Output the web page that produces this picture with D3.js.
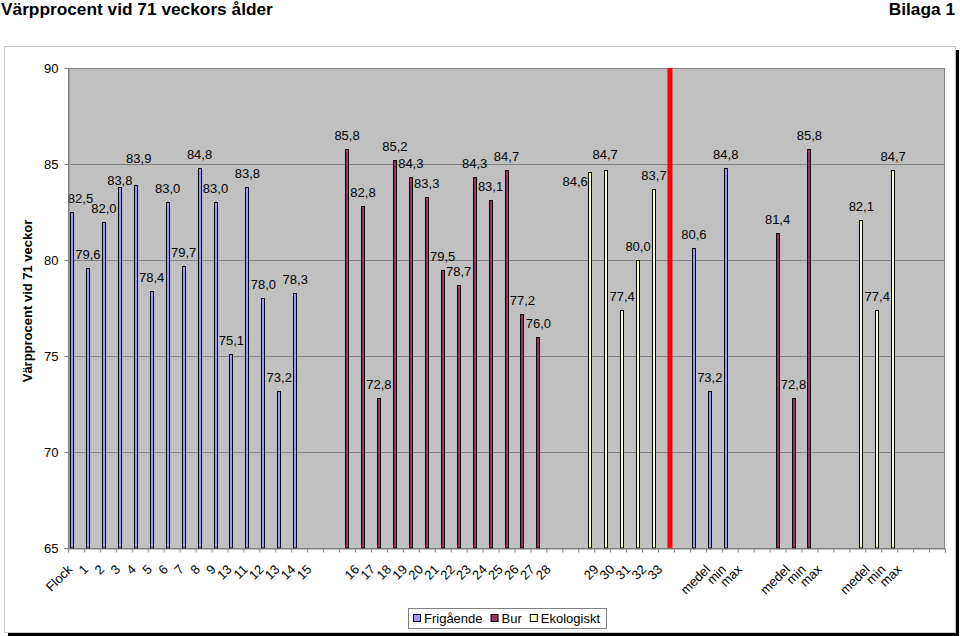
<!DOCTYPE html>
<html>
<head>
<meta charset="utf-8">
<script src="https://cdn.jsdelivr.net/npm/d3@7"></script>
<style>
  html, body { margin: 0; padding: 0; background: #fff; }
  svg { display: block; font-family: "Liberation Sans", Arial, sans-serif; }
</style>
</head>
<body>
<svg id="chart" width="960" height="636"></svg>
<script>
// ---------- DATA ----------
const tickLabels = [
  "Flock","1","2","3","4","5","6","7","8","9","13","11","12","13","14","15",
  "","",
  "16","17","18","19","20","21","22","23","24","25","26","27","28",
  "","",
  "29","30","31","32","33",
  "","",
  "medel","min","max",
  "","",
  "medel","min","max",
  "","",
  "medel","min","max",
  "",""
];
const N = null;
const frigaende = [
  82.5,79.6,82.0,83.8,83.9,78.4,83.0,79.7,84.8,83.0,75.1,83.8,78.0,73.2,78.3,
  N,N,
  N,N,N,N,N,N,N,N,N,N,N,N,N,
  N,N,
  N,N,N,N,N,
  N,N,
  80.6,73.2,84.8,
  N,N,
  N,N,N,
  N,N,
  N,N,N,
  N,N,N
];
const bur = [
  N,N,N,N,N,N,N,N,N,N,N,N,N,N,N,
  N,N,
  85.8,82.8,72.8,85.2,84.3,83.3,79.5,78.7,84.3,83.1,84.7,77.2,76.0,
  N,N,
  N,N,N,N,N,
  N,N,
  N,N,N,
  N,N,
  81.4,72.8,85.8,
  N,N,
  N,N,N,
  N,N,N
];
const ekologiskt = [
  N,N,N,N,N,N,N,N,N,N,N,N,N,N,N,
  N,N,
  N,N,N,N,N,N,N,N,N,N,N,N,N,
  N,N,
  84.6,84.7,77.4,80.0,83.7,
  N,N,
  N,N,N,
  N,N,
  N,N,N,
  N,N,
  82.1,77.4,84.7,
  N,N,N
];
const seriesNames = ["Frigående","Bur","Ekologiskt"];
const dividerCategory = 37;     // red separator line
const yTicks = [65,70,75,80,85,90];

// ---------- LAYOUT / STYLE ----------
const colors = { "Frigående": "#9999ff", "Bur": "#993366", "Ekologiskt": "#ffffcc" };
// manual data-label nudges (as placed in the original), keyed series|category
const labelNudge = {
  "Frigående|0": [8.5, 0],
  "Frigående|3": [0, 7],
  "Frigående|4": [3, -13],
  "Ekologiskt|32": [-15, 23],
  "Ekologiskt|33": [-1, -2]
};
const plot = { left: 68, right: 945, top: 68, bottom: 548 };
const font = "'Liberation Sans', Arial, sans-serif";

const svg = d3.select("#chart");

// chart area with shadow
svg.append("rect").attr("x", 8).attr("y", 50).attr("width", 951).attr("height", 586).attr("fill", "#000");
svg.append("rect").attr("x", 4.5).attr("y", 46.5).attr("width", 951).attr("height", 586)
  .attr("fill", "#fff").attr("stroke", "#c8c8c8");

// titles
svg.append("text").attr("x", 1).attr("y", 15).attr("font-size", 17.3).attr("font-weight", "bold")
  .text("Värpprocent vid 71 veckors ålder");
svg.append("text").attr("x", 955).attr("y", 15).attr("font-size", 17.3).attr("font-weight", "bold")
  .attr("text-anchor", "end").text("Bilaga 1");

// scales
const x0 = d3.scaleBand().domain(d3.range(tickLabels.length))
  .range([plot.left, plot.right]).paddingInner(0).paddingOuter(0);
const x1 = d3.scaleBand().domain(seriesNames).range([0, x0.bandwidth()])
  .paddingInner(0).paddingOuter(0.5);
const y = d3.scaleLinear().domain([65, 90]).range([plot.bottom, plot.top]);

// plot area
svg.append("rect").attr("x", plot.left).attr("y", plot.top)
  .attr("width", plot.right - plot.left).attr("height", plot.bottom - plot.top)
  .attr("fill", "#c0c0c0");

// gridlines
svg.append("g").selectAll("line").data(yTicks.filter(t => t > 65 && t < 90)).join("line")
  .attr("x1", plot.left).attr("x2", plot.right)
  .attr("y1", d => Math.round(y(d)) + 0.5).attr("y2", d => Math.round(y(d)) + 0.5)
  .attr("stroke", "#808080").attr("stroke-width", 1);

// plot border
svg.append("rect").attr("x", plot.left + 0.5).attr("y", plot.top + 0.5)
  .attr("width", plot.right - plot.left - 1).attr("height", plot.bottom - plot.top)
  .attr("fill", "none").attr("stroke", "#808080");

// bars
const seriesData = [
  { name: "Frigående", values: frigaende },
  { name: "Bur", values: bur },
  { name: "Ekologiskt", values: ekologiskt }
];
const fmt = v => d3.format(".1f")(v).replace(".", ",");
const barsG = svg.append("g");
const labelsG = svg.append("g");
seriesData.forEach(s => {
  const pts = s.values.map((v, i) => ({ v, i })).filter(d => d.v !== null);
  barsG.selectAll(null).data(pts).join("rect")
    .attr("x", d => Math.round(x0(d.i) + x1(s.name)) + 0.5)
    .attr("y", d => Math.round(y(d.v)) + 0.5)
    .attr("width", Math.round(x1.bandwidth()) - 1)
    .attr("height", d => y(65) - Math.round(y(d.v)) - 0.5)
    .attr("fill", colors[s.name]).attr("stroke", "#000").attr("stroke-width", 1);
  labelsG.selectAll(null).data(pts).join("text")
    .attr("x", d => {
      const n = labelNudge[s.name + "|" + d.i] || [0, 0];
      return x0(d.i) + x1(s.name) + x1.bandwidth() / 2 + n[0];
    })
    .attr("y", d => {
      const n = labelNudge[s.name + "|" + d.i] || [0, 0];
      return y(d.v) - 9 + n[1];
    })
    .attr("text-anchor", "middle").attr("font-size", 13).attr("fill", "#000")
    .text(d => fmt(d.v));
});

// red divider
svg.append("rect")
  .attr("x", x0(dividerCategory) + x1("Ekologiskt") + x1.bandwidth() / 2 - 2.5)
  .attr("y", y(90)).attr("width", 5).attr("height", y(65) - y(90))
  .attr("fill", "#ff0000");

// y axis
const yAxis = svg.append("g").attr("transform", `translate(${plot.left + 0.5},0)`)
  .call(d3.axisLeft(y).tickValues(yTicks).tickSize(4).tickPadding(6).tickFormat(d3.format("d")));
yAxis.select(".domain").attr("stroke", "#808080");
yAxis.selectAll(".tick line").attr("stroke", "#808080");
yAxis.selectAll("text").attr("font-size", 13).attr("font-family", font).attr("fill", "#000");

// x axis: boundary tick marks
const xb = d3.scaleLinear().domain([0, tickLabels.length]).range([plot.left, plot.right]);
const xTicks = svg.append("g").attr("transform", `translate(0,${plot.bottom + 0.5})`)
  .call(d3.axisBottom(xb).tickValues(d3.range(tickLabels.length + 1)).tickSize(4).tickFormat(""));
xTicks.select(".domain").attr("stroke", "#808080");
xTicks.selectAll(".tick line").attr("stroke", "#808080");

// x axis: category labels (rotated)
const xAxis = svg.append("g").attr("transform", `translate(0,${plot.bottom})`)
  .call(d3.axisBottom(x0).tickSize(0).tickFormat(i => tickLabels[i]));
xAxis.select(".domain").remove();
xAxis.selectAll("text")
  .attr("x", 0).attr("y", 0).attr("dy", "0.35em")
  .attr("transform", "translate(-6,19) rotate(-45)")
  .attr("text-anchor", "end")
  .attr("font-size", 13).attr("font-family", font).attr("fill", "#000");

// y axis title
svg.append("text")
  .attr("transform", "translate(32,301) rotate(-90)")
  .attr("text-anchor", "middle").attr("font-size", 13).attr("font-weight", "bold")
  .text("Värpprocent vid 71 veckor");

// legend
const legend = svg.append("g");
legend.append("rect").attr("x", 408.5).attr("y", 608.5).attr("width", 198).attr("height", 20)
  .attr("fill", "#fff").attr("stroke", "#808080");
let lx = 413;
seriesNames.forEach(name => {
  legend.append("rect").attr("x", lx + 0.5).attr("y", 614.5).attr("width", 7).attr("height", 7)
    .attr("fill", colors[name]).attr("stroke", "#000");
  const t = legend.append("text").attr("x", lx + 11).attr("y", 623).attr("font-size", 13).text(name);
  lx = lx + 11 + t.node().getComputedTextLength() + 8;
});
</script>
</body>
</html>
